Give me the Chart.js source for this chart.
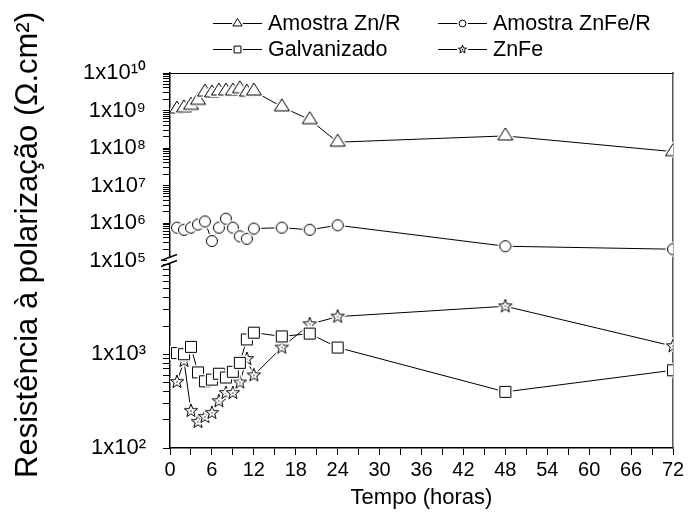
<!DOCTYPE html>
<html>
<head>
<meta charset="utf-8">
<script src="https://cdn.jsdelivr.net/npm/chart.js@4.4.0/dist/chart.umd.min.js"></script>
<style>
  html, body { margin: 0; padding: 0; background: #fff; }
</style>
</head>
<body>
<canvas id="myChart" width="688" height="524"></canvas>
<script>
// time in hours, shared by all series
const horas = [1, 2, 3, 4, 5, 6, 7, 8, 9, 10, 11, 12, 16, 20, 24, 48, 72];

// polarization resistance (ohm.cm2)
const znR = [1.1e9, 1.18e9, 1.38e9, 1.87e9, 3.1e9, 2.95e9, 3.3e9, 3.3e9, 3.3e9, 3.8e9, 3.1e9, 3.3e9, 1.25e9, 5.7e8, 1.43e8, 2.1e8, 8e7];
const znFeR = [7.5e5, 6.6e5, 7.5e5, 9.1e5, 1.1e6, 3.3e5, 7.5e5, 1.3e6, 7.5e5, 4.4e5, 3.8e5, 7.1e5, 7.5e5, 6.6e5, 8.7e5, 2.4e5, 2.0e5];
const galvanizado = [1030, 1000, 1200, 640, 515, 537, 620, 565, 650, 810, 1440, 1700, 1550, 1660, 1180, 397, 675];
const znFe = [507, 850, 249, 190, 215, 237, 316, 387, 387, 500, 890, 597, 1180, 2090, 2520, 3250, 1220];

// labelled ticks
const xLabels = [0, 6, 12, 18, 24, 30, 36, 42, 48, 54, 60, 66, 72];
const expTop = [5, 6, 7, 8, 9, 10];
const expBot = [2, 3];

const yTitle = 'Resistência à polarização (Ω.cm²)';

const FONT = '"Liberation Sans", Arial, Helvetica, sans-serif';
Chart.defaults.font.family = FONT;
Chart.defaults.color = '#000';

const SUP = '⁰¹²³⁴⁵⁶⁷⁸⁹';
const sup = n => String(n).split('').map(d => SUP[+d]).join('');

const pts = arr => horas.map((h, i) => ({ x: h, y: arr[i] }));

// hollow markers with a small white gap round them, like the original
function marker(kind, k) {
  const size = Math.ceil(26 * k);
  const cv = document.createElement('canvas');
  cv.width = cv.height = size;
  const g = cv.getContext('2d');
  g.translate(size / 2, size / 2);
  g.beginPath();
  if (kind === 'tri') {
    g.moveTo(0, -8 * k);
    g.lineTo(7.5 * k, 4 * k);
    g.lineTo(-7.5 * k, 4 * k);
    g.closePath();
  } else if (kind === 'circ') {
    g.arc(0, 0, 5.5 * k, 0, Math.PI * 2);
  } else if (kind === 'sq') {
    g.rect(-5.5 * k, -5.5 * k, 11 * k, 11 * k);
  } else {
    for (let i = 0; i < 10; i++) {
      const r = (i % 2 ? 2.9 : 7) * k;
      const a = -Math.PI / 2 + i * Math.PI / 5;
      g.lineTo(Math.cos(a) * r, Math.sin(a) * r);
    }
    g.closePath();
  }
  g.lineJoin = 'round';
  g.strokeStyle = '#fff';
  g.lineWidth = 4;
  g.stroke();
  g.fillStyle = '#fff';
  g.fill();
  g.strokeStyle = '#000';
  g.lineWidth = 1;
  g.stroke();
  if (kind === 'star') {
    g.fillStyle = '#000';
    g.fillRect(-0.6, -0.6, 1.2, 1.2);
  }
  return cv;
}

const kinds = ['tri', 'circ', 'sq', 'star'];
const plotMarkers = kinds.map(k => marker(k, 1));
const legendMarkers = kinds.map(k => marker(k, 0.62));

const legendPos = [[213, 23], [438, 23], [213, 49], [438, 49]];

const legendPlugin = {
  id: 'originLegend',
  afterDraw(chart) {
    const c = chart.ctx;
    chart.data.datasets.forEach((ds, i) => {
      const [x, y] = legendPos[i];
      const m = legendMarkers[i];
      c.save();
      c.strokeStyle = '#000';
      c.lineWidth = 1;
      c.beginPath();
      c.moveTo(x, y + 0.5);
      c.lineTo(x + 49, y + 0.5);
      c.stroke();
      c.drawImage(m, x + 24.5 - m.width / 2, y + 0.5 - m.height / 2);
      c.fillStyle = '#000';
      c.font = '21.5px ' + FONT;
      c.textBaseline = 'middle';
      c.fillText(ds.label, x + 55, y + 1);
      c.restore();
    });
  }
};

// rotated y title, placed a little above the plot centre as in the original
const titlePlugin = {
  id: 'yTitle',
  afterDraw(chart) {
    const c = chart.ctx;
    c.save();
    c.translate(28, 245);
    c.rotate(-Math.PI / 2);
    c.fillStyle = '#000';
    c.font = '31px ' + FONT;
    c.textAlign = 'center';
    c.textBaseline = 'middle';
    c.fillText(yTitle, 0, 0);
    c.restore();
  }
};

const breakPlugin = {
  id: 'axisBreak',
  afterDraw(chart) {
    const c = chart.ctx;
    const x = chart.chartArea.left;
    const y = chart.scales.yTop.bottom;
    c.save();
    c.fillStyle = '#fff';
    c.fillRect(x - 3, y - 3, 6, 6);
    c.strokeStyle = '#000';
    c.lineWidth = 1.5;
    [-3, 3].forEach(d => {
      c.beginPath();
      c.moveTo(x - 9, y + d + 3);
      c.lineTo(x + 7, y + d - 3);
      c.stroke();
    });
    c.restore();
  }
};

const keepInteger = axis => {
  axis.ticks = axis.ticks.filter(t => {
    const m = t.value / Math.pow(10, Math.floor(Math.log10(t.value) + 1e-9));
    return Math.abs(m - Math.round(m)) < 1e-6;
  });
};

const logLabel = exps => v => {
  const e = Math.round(Math.log10(v));
  if (Math.abs(Math.log10(v) - e) < 1e-6 && exps.includes(e)) return '1x10' + sup(e);
  return '';
};

const yAxis = (min, max, exps) => ({
  type: 'logarithmic',
  position: 'left',
  stack: 'y',
  stackWeight: 1,
  min: min,
  max: max,
  afterBuildTicks: keepInteger,
  afterFit: s => { s.width = 130; },
  ticks: { autoSkip: false, padding: 17, font: { size: 22 }, callback: logLabel(exps) },
  grid: { drawOnChartArea: false, tickLength: 7, color: '#000' },
  border: { color: '#000', width: 1.5 }
});

const line = (label, arr, axis, i) => ({
  label: label,
  data: pts(arr),
  yAxisID: axis,
  borderColor: '#000',
  borderWidth: 1,
  tension: 0,
  pointStyle: plotMarkers[i],
  pointRadius: 7,
  pointHoverRadius: 7
});

const ctx = document.querySelector('#myChart').getContext('2d');

new Chart(ctx, {
  type: 'line',
  data: {
    datasets: [
      line('Amostra Zn/R', znR, 'yTop', 0),
      line('Amostra ZnFe/R', znFeR, 'yTop', 1),
      line('Galvanizado', galvanizado, 'yBot', 2),
      line('ZnFe', znFe, 'yBot', 3)
    ]
  },
  options: {
    responsive: false,
    animation: false,
    devicePixelRatio: 1,
    layout: { padding: { top: 73, right: 15, bottom: 0, left: 40 } },
    plugins: { legend: { display: false }, tooltip: { enabled: false } },
    scales: {
      x: {
        type: 'linear',
        position: 'bottom',
        min: 0,
        max: 72,
        afterFit: s => { s.height = 76; },
        ticks: {
          stepSize: 3,
          autoSkip: false,
          maxRotation: 0,
          padding: 3,
          font: { size: 20 },
          callback: v => (xLabels.includes(v) ? String(v) : '')
        },
        grid: { drawOnChartArea: false, tickLength: 7, color: '#000' },
        border: { color: '#000', width: 1.5 },
        title: { display: true, text: 'Tempo (horas)', font: { size: 22 }, padding: { top: 0, bottom: 13 } }
      },
      xTop: {
        type: 'linear',
        position: 'top',
        min: 0,
        max: 72,
        afterFit: s => { s.height = 0; },
        ticks: { display: false },
        grid: { display: false },
        border: { color: '#000', width: 1 }
      },
      yBot: yAxis(1e2, 1e4, expBot),
      yTop: yAxis(1e5, 1e10, expTop),
      yRight: {
        type: 'linear',
        position: 'right',
        afterFit: s => { s.width = 0; },
        ticks: { display: false },
        grid: { display: false },
        border: { color: '#555', width: 1.5 }
      }
    }
  },
  plugins: [legendPlugin, titlePlugin, breakPlugin]
});
</script>
</body>
</html>
